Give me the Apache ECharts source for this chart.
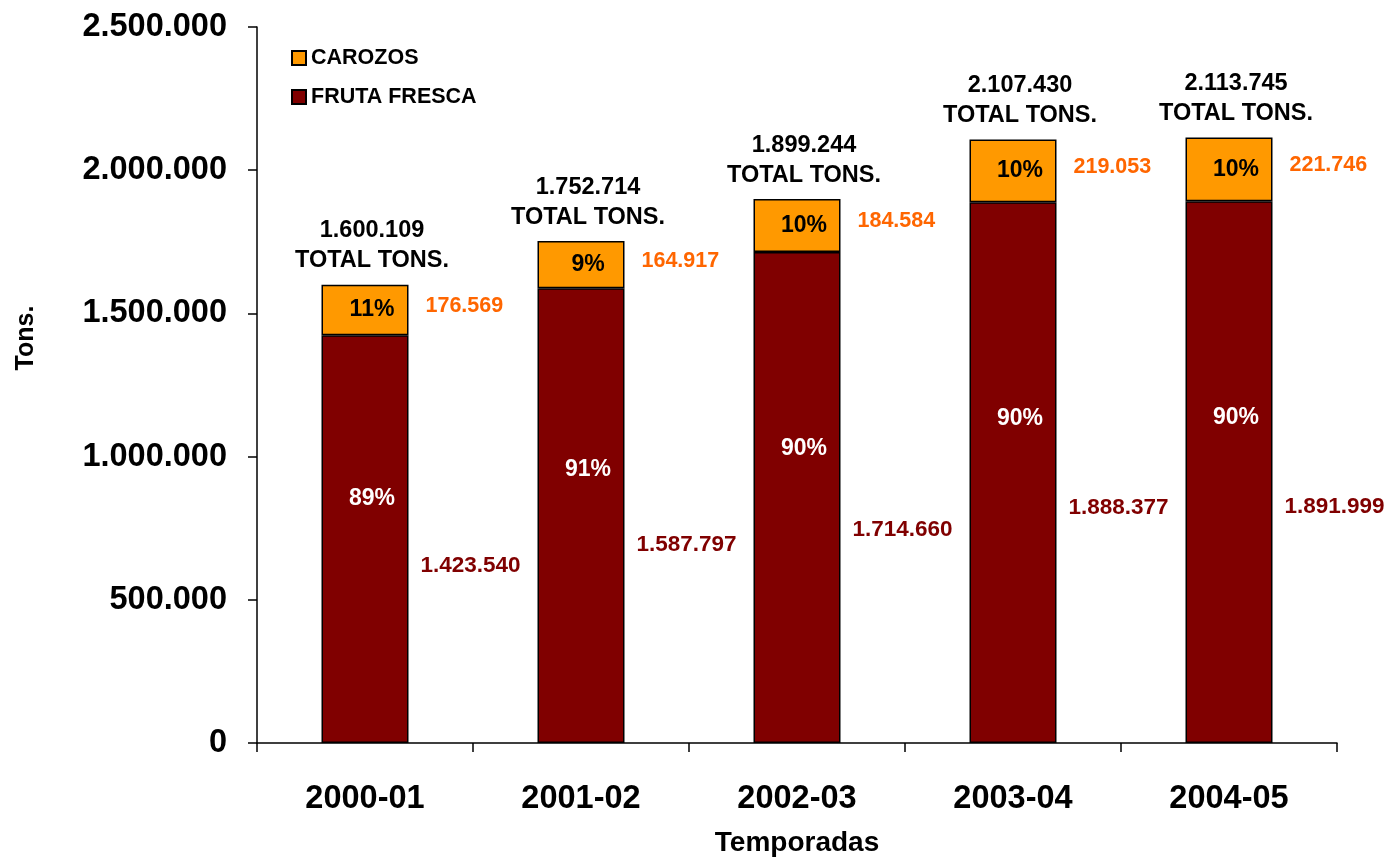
<!DOCTYPE html>
<html>
<head>
<meta charset="utf-8">
<script src="https://cdn.jsdelivr.net/npm/echarts@6/dist/echarts.min.js"></script>
<style>
html,body{margin:0;padding:0;background:#fff;}
#chart{width:1394px;height:860px;}
</style>
</head>
<body>
<div id="chart"></div>
<script>
var categories = ['2000-01', '2001-02', '2002-03', '2003-04', '2004-05'];
var frutaFresca = [1423540, 1587797, 1714660, 1888377, 1891999];
var carozos = [176569, 164917, 184584, 219053, 221746];
var totals = [1600109, 1752714, 1899244, 2107430, 2113745];
var frescaPct = ['89%', '91%', '90%', '90%', '90%'];
var carozosPct = ['11%', '9%', '10%', '10%', '10%'];
var yTicks = [0, 500000, 1000000, 1500000, 2000000, 2500000];

var FONT = "'Liberation Sans', Arial, sans-serif";
function fmt(n) {
  return String(n).replace(/\B(?=(\d{3})+(?!\d))/g, '.');
}

var chart = echarts.init(document.getElementById('chart'));
var option = {
  backgroundColor: '#ffffff',
  animation: false,
  textStyle: { fontFamily: FONT },
  grid: { left: 257, right: 57, top: 27, bottom: 117, containLabel: false, outerBoundsMode: 'none' },
  legend: {
    data: ['CAROZOS', 'FRUTA FRESCA'],
    orient: 'vertical',
    left: 286,
    top: 42,
    itemWidth: 14,
    itemHeight: 14,
    itemGap: 17,
    icon: 'rect',
    textStyle: { fontFamily: FONT, fontSize: 21.5, fontWeight: 'bold', color: '#000' }
  },
  xAxis: {
    type: 'category',
    data: categories,
    name: 'Temporadas',
    nameLocation: 'middle',
    nameGap: 86,
    nameTextStyle: { fontFamily: FONT, fontSize: 28, fontWeight: 'bold', color: '#000' },
    axisLine: { lineStyle: { color: '#000', width: 1.5 } },
    axisTick: { show: true, length: 9, lineStyle: { color: '#000', width: 1.5 } },
    axisLabel: { margin: 40, fontFamily: FONT, fontSize: 32.5, fontWeight: 'bold', color: '#000' },
    splitLine: { show: false }
  },
  yAxis: {
    type: 'value',
    min: yTicks[0],
    max: yTicks[yTicks.length - 1],
    interval: yTicks[1] - yTicks[0],
    name: 'Tons.',
    nameLocation: 'middle',
    nameGap: 218,
    nameRotate: 90,
    nameTextStyle: { fontFamily: FONT, fontSize: 25, fontWeight: 'bold', color: '#000', padding: [0, 0, 0, 94] },
    axisLine: { show: true, lineStyle: { color: '#000', width: 1.5 } },
    axisTick: { show: true, length: 9, lineStyle: { color: '#000', width: 1.5 } },
    axisLabel: { margin: 30, fontFamily: FONT, fontSize: 32.5, fontWeight: 'bold', color: '#000',
      formatter: function (v) { return fmt(v); } },
    splitLine: { show: false }
  },
  series: [
    {
      name: 'FRUTA FRESCA', type: 'bar', stack: 'a', data: frutaFresca,
      barWidth: 87, barGap: '-100%',
      itemStyle: { color: '#800000', borderColor: '#000', borderWidth: 1.5 },
      label: {
        show: true, position: ['50%', '40%'], align: 'center', verticalAlign: 'middle',
        offset: [7, 0],
        fontFamily: FONT, fontSize: 23, fontWeight: 'bold', color: '#fff',
        formatter: function (p) { return frescaPct[p.dataIndex]; }
      }
    },
    {
      name: 'CAROZOS', type: 'bar', stack: 'a', data: carozos,
      barWidth: 87, barGap: '-100%',
      itemStyle: { color: '#FF9900', borderColor: '#000', borderWidth: 1.5 },
      label: {
        show: true, position: 'inside', offset: [7, 0],
        fontFamily: FONT, fontSize: 23, fontWeight: 'bold', color: '#000',
        formatter: function (p) { return carozosPct[p.dataIndex]; }
      }
    },
    {
      name: 'frescaVal', type: 'bar', stack: 'b', data: frutaFresca,
      barWidth: 87, barGap: '-100%', silent: true,
      itemStyle: { color: 'rgba(0,0,0,0)' },
      label: {
        show: true, position: ['100%', '56.5%'], align: 'left', verticalAlign: 'middle',
        offset: [12, 0],
        fontFamily: FONT, fontSize: 22.5, fontWeight: 'bold', color: '#800000',
        formatter: function (p) { return fmt(p.value); }
      }
    },
    {
      name: 'carozosVal', type: 'bar', stack: 'b', data: carozos,
      barWidth: 87, barGap: '-100%', silent: true,
      itemStyle: { color: 'rgba(0,0,0,0)' },
      label: {
        show: true, position: 'right', distance: 17, offset: [0, -4],
        fontFamily: FONT, fontSize: 21.5, fontWeight: 'bold', color: '#FF6600',
        formatter: function (p) { return fmt(p.value); }
      }
    },
    {
      name: 'totalVal', type: 'bar', stack: 'c', data: totals,
      barWidth: 87, barGap: '-100%', silent: true, z: 1,
      itemStyle: { color: 'rgba(0,0,0,0)' },
      label: {
        show: true, position: 'top', distance: 9, offset: [7, 0],
        fontFamily: FONT, fontSize: 23.5, fontWeight: 'bold', color: '#000', lineHeight: 30,
        formatter: function (p) { return fmt(p.value) + '\nTOTAL TONS.'; }
      }
    }
  ]
};
chart.setOption(option);
</script>
</body>
</html>
